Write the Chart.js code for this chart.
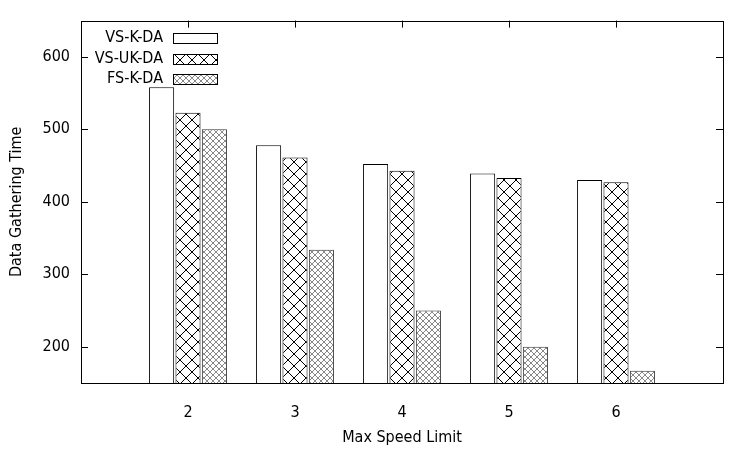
<!DOCTYPE html>
<html>
<head>
<meta charset="utf-8">
<script src="https://cdn.jsdelivr.net/npm/chart.js@4/dist/chart.umd.min.js"></script>
<style>
  html, body { margin: 0; padding: 0; background: #fff; }
</style>
</head>
<body>
<canvas id="chart" width="750" height="450"></canvas>
<script>
const speedLimits = [2, 3, 4, 5, 6];
const vsKda = [558, 478, 452, 439, 430];
const vsUkda = [523, 461, 443, 433, 427];
const fsKda = [500, 334, 250, 200, 167];
const yTicks = [200, 300, 400, 500, 600];

const canvas = document.getElementById("chart");
const ctx = canvas.getContext("2d");
const FONT = '"DejaVu Sans Condensed", "DejaVu Sans"';

// crosshatch fill like gnuplot's patterns
function hatch(size, color) {
  const c = document.createElement("canvas");
  c.width = size; c.height = size;
  const g = c.getContext("2d");
  g.fillStyle = "#fff";
  g.fillRect(0, 0, size, size);
  g.strokeStyle = color;
  g.lineWidth = 1;
  g.beginPath();
  g.moveTo(0, 0); g.lineTo(size, size);
  g.moveTo(size, 0); g.lineTo(0, size);
  g.stroke();
  return ctx.createPattern(c, "repeat");
}

const pts = vals => speedLimits.map((x, i) => ({ x: x, y: vals[i] }));

const frame = {
  id: "frame",
  beforeDatasetsDraw(chart) {
    const { ctx, chartArea: a, scales } = chart;
    ctx.save();
    ctx.strokeStyle = "#000";
    ctx.lineWidth = 1;
    ctx.beginPath();
    yTicks.forEach(v => {
      const y = Math.round(scales.y.getPixelForValue(v)) + 0.5;
      ctx.moveTo(a.left, y); ctx.lineTo(a.left + 7, y);
      ctx.moveTo(a.right, y); ctx.lineTo(a.right - 7, y);
    });
    speedLimits.forEach(v => {
      const x = Math.round(scales.x.getPixelForValue(v)) + 0.5;
      ctx.moveTo(x, a.top); ctx.lineTo(x, a.top + 7);
      ctx.moveTo(x, a.bottom); ctx.lineTo(x, a.bottom - 7);
    });
    ctx.stroke();
    ctx.restore();
  },
  afterDatasetsDraw(chart) {
    const { ctx, chartArea: a } = chart;
    ctx.save();
    ctx.strokeStyle = "#000";
    ctx.lineWidth = 1;
    ctx.strokeRect(Math.round(a.left) + 0.5, Math.round(a.top) + 0.5,
      Math.round(a.right - a.left), Math.round(a.bottom - a.top));
    ctx.restore();
  },
  afterDraw(chart) {
    const { ctx } = chart;
    ctx.save();
    chart.data.datasets.forEach((ds, i) => {
      const y = Math.round(38 + i * 20.5);
      ctx.font = "16px " + FONT;
      ctx.fillStyle = "#000";
      ctx.textAlign = "right";
      ctx.textBaseline = "middle";
      ctx.fillText(ds.label, 163, y);
      ctx.fillStyle = ds.backgroundColor;
      ctx.fillRect(173, y - 5, 45, 10);
      ctx.strokeStyle = "#000";
      ctx.lineWidth = 1;
      ctx.strokeRect(173.5, y - 4.5, 44, 10);
    });
    ctx.restore();
  }
};

Chart.defaults.font.family = FONT;
Chart.defaults.font.size = 16;
Chart.defaults.color = "#000";

new Chart(ctx, {
  type: "bar",
  data: {
    datasets: [
      { label: "VS-K-DA", data: pts(vsKda), backgroundColor: "#fff", borderColor: "#000", borderWidth: 1 },
      { label: "VS-UK-DA", data: pts(vsUkda), backgroundColor: hatch(12, "#000"), borderColor: "#000", borderWidth: 1 },
      { label: "FS-K-DA", data: pts(fsKda), backgroundColor: hatch(6, "#888"), borderColor: "#333", borderWidth: 1 }
    ]
  },
  options: {
    responsive: false,
    animation: false,
    devicePixelRatio: 1,
    categoryPercentage: 0.74,
    barPercentage: 0.95,
    layout: { padding: { top: 20, right: 27, left: 0, bottom: 0 } },
    plugins: { legend: { display: false }, tooltip: { enabled: false } },
    scales: {
      x: {
        type: "linear",
        min: 1, max: 7,
        offset: false,
        grid: { display: false, drawTicks: false },
        border: { display: false },
        ticks: { padding: 20 },
        afterBuildTicks: s => { s.ticks = speedLimits.map(v => ({ value: v })); },
        afterFit: s => { s.height = 67; },
        title: { display: true, text: "Max Speed Limit", padding: 3 }
      },
      y: {
        min: 150, max: 650,
        grid: { display: false, drawTicks: false },
        border: { display: false },
        ticks: { padding: 11 },
        afterBuildTicks: s => { s.ticks = yTicks.map(v => ({ value: v })); },
        afterFit: s => { s.width = 81; },
        title: { display: true, text: "Data Gathering Time", padding: 7 }
      }
    }
  },
  plugins: [frame]
});
</script>
</body>
</html>
